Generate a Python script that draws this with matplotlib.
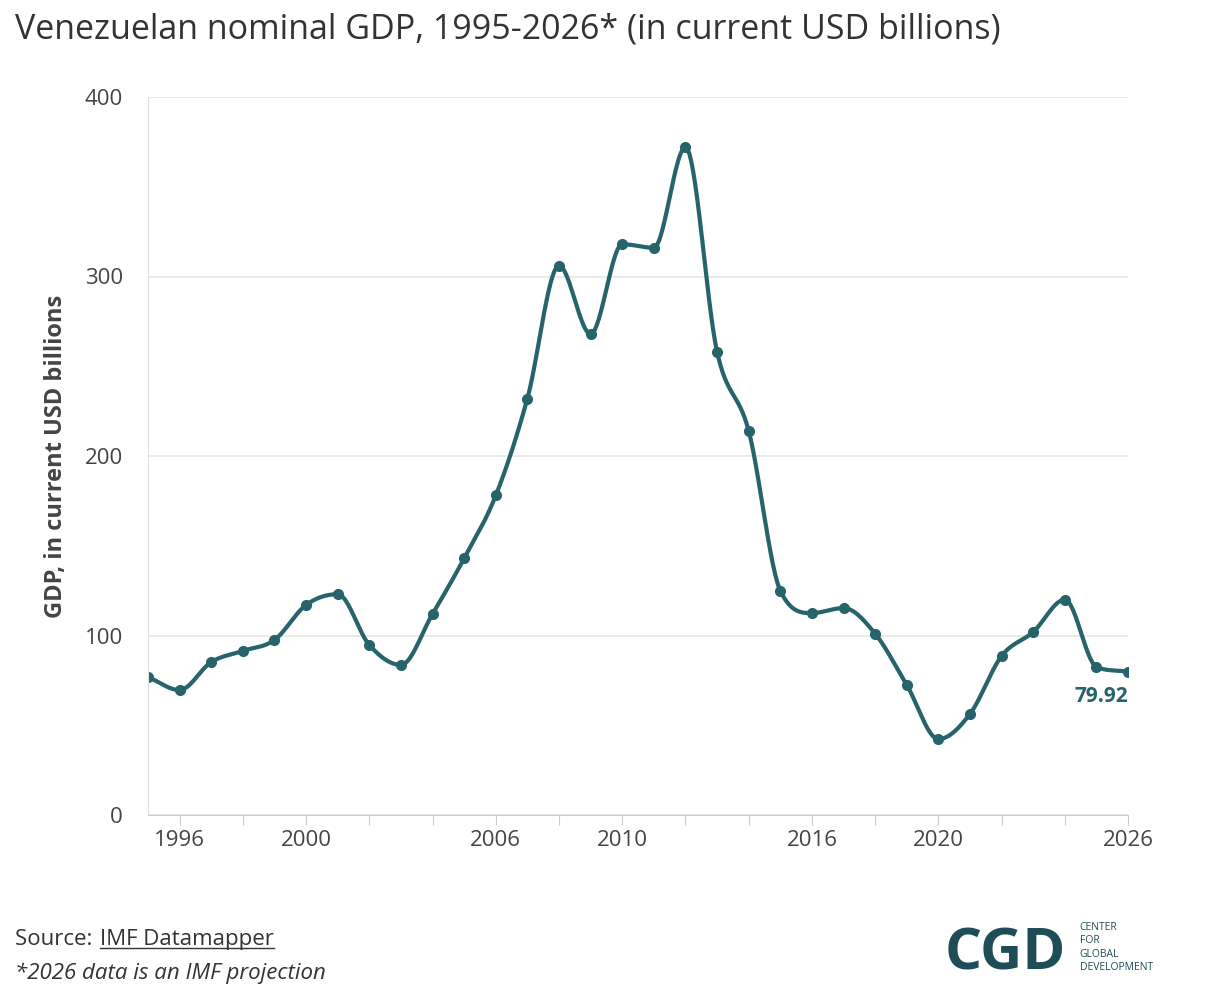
import numpy as np
import matplotlib
matplotlib.use("Agg")
import matplotlib.pyplot as plt

years = list(range(1995, 2027))
gdp = [76.9, 69.6, 85.2, 91.4, 97.5, 117, 123, 94.7, 83.6, 112, 143, 178, 232, 306, 268, 318, 316, 372,
       258, 214, 125, 112.5, 115.3, 101, 72.4, 42.3, 56.3, 88.6, 102, 120, 82.5, 79.92]
major_labels = [1996, 2000, 2006, 2010, 2016, 2020, 2026]
yticks = [0, 100, 200, 300, 400]

C = "#27636b"
plt.rcParams['font.family'] = ['Open Sans', 'DejaVu Sans']

def monotone(x, y, n=30):
    x = np.asarray(x, float); y = np.asarray(y, float)
    h = np.diff(x); d = np.diff(y) / h
    m = np.zeros_like(y)
    m[0], m[-1] = d[0], d[-1]
    for i in range(1, len(y)-1):
        if d[i-1]*d[i] <= 0:
            m[i] = 0
        else:
            m[i] = (d[i-1]*h[i] + d[i]*h[i-1]) / (h[i-1]+h[i])
            m[i] = np.sign(m[i]) * min(abs(m[i]), 3*min(abs(d[i-1]), abs(d[i])))
    xs, ys = [], []
    t = np.linspace(0, 1, n, endpoint=False)
    for i in range(len(x)-1):
        h00 = 2*t**3-3*t**2+1; h10 = t**3-2*t**2+t; h01 = -2*t**3+3*t**2; h11 = t**3-t**2
        xs.extend(x[i] + t*h[i])
        ys.extend(h00*y[i] + h10*h[i]*m[i] + h01*y[i+1] + h11*h[i]*m[i+1])
    xs.append(x[-1]); ys.append(y[-1])
    return np.array(xs), np.array(ys)

fig = plt.figure(figsize=(12.16, 10), dpi=100)
ax = fig.add_axes([0.1217, 0.185, 0.806, 0.718])
sx, sy = monotone(years, gdp)
ax.plot(sx, sy, color=C, lw=3, solid_capstyle='round')
ax.plot(years, gdp, 'o', color=C, ms=7)
ax.set_xlim(1995, 2026)
ax.set_ylim(0, 400)
ax.set_yticks(yticks)
ax.set_xticks(list(range(1996, 2027, 2)))
ax.set_xticklabels([str(y) if y in major_labels else "" for y in range(1996, 2027, 2)])
ax.tick_params(axis='x', length=7, color='#cccccc', labelsize=16, labelcolor='#444444')
ax.tick_params(axis='y', length=0, labelsize=16, labelcolor='#444444', pad=18)
ax.grid(axis='y', color='#e6e6e6', lw=1.2)
ax.set_axisbelow(True)
for s in ['top', 'right']:
    ax.spines[s].set_visible(False)
ax.spines['left'].set_color('#e0e0e0')
ax.spines['bottom'].set_color('#cccccc')
ax.set_ylabel("GDP, in current USD billions", fontsize=17, fontweight='bold', color='#444444', labelpad=12)
ax.annotate("79.92", (2026, 79.92), xytext=(0, -22), textcoords='offset points', ha='right',
            fontsize=15, fontweight='bold', color=C)
for sp in ax.spines.values():
    sp.set_clip_on(False)

fig.text(0.012, 0.962, "Venezuelan nominal GDP, 1995-2026* (in current USD billions)", fontsize=24.5, color='#333333')
fig.text(0.012, 0.055, "Source: ", fontsize=16, color='#333333')
fig.text(0.082, 0.055, "IMF Datamapper", fontsize=16, color='#333333')
fig.add_artist(plt.Line2D([0.082, 0.225], [0.052, 0.052], color='#333333', lw=1))
fig.text(0.012, 0.021, "*2026 data is an IMF projection", fontsize=16, color='#333333', style='italic')
fig.text(0.777, 0.03, "CGD", fontsize=42, fontweight='bold', color='#1f4d57')
fig.text(0.888, 0.03, "CENTER\nFOR\nGLOBAL\nDEVELOPMENT", fontsize=7.5, color='#1f4d57', linespacing=1.3)
fig.savefig("out.png", dpi=100)
